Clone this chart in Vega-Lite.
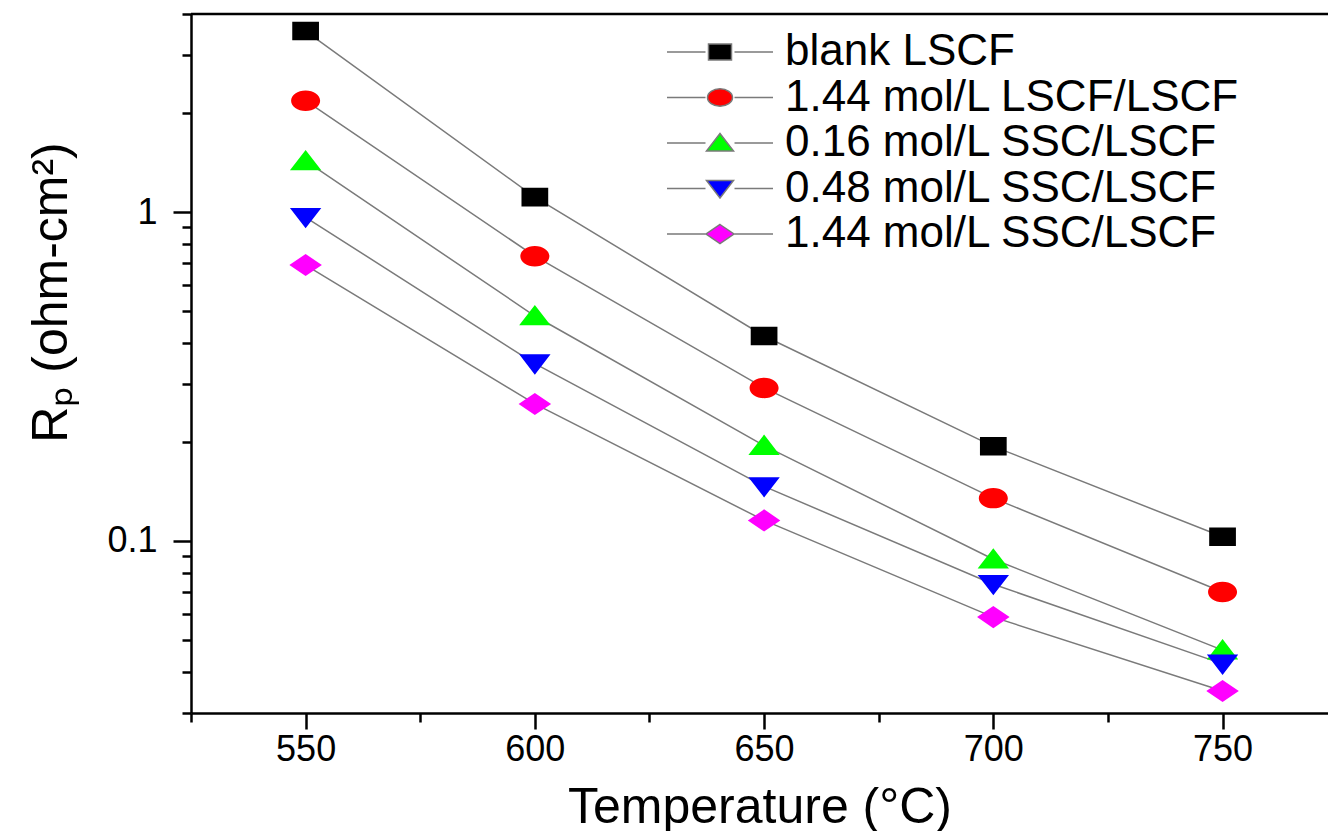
{
  "$schema": "https://vega.github.io/schema/vega-lite/v6.json",
  "width": 1137,
  "height": 699,
  "autosize": {"type": "none"},
  "padding": {"left": 191, "top": 14, "right": 0, "bottom": 118},
  "background": "white",
  "config": {"view": {"stroke": null}, "font": "Liberation Sans"},
  "data": {"values": [
    {"T": 550, "Rp": 3.55, "series": "blank LSCF"},
    {"T": 600, "Rp": 1.11, "series": "blank LSCF"},
    {"T": 650, "Rp": 0.42, "series": "blank LSCF"},
    {"T": 700, "Rp": 0.194, "series": "blank LSCF"},
    {"T": 750, "Rp": 0.103, "series": "blank LSCF"},
    {"T": 550, "Rp": 2.18, "series": "1.44 mol/L LSCF/LSCF"},
    {"T": 600, "Rp": 0.734, "series": "1.44 mol/L LSCF/LSCF"},
    {"T": 650, "Rp": 0.292, "series": "1.44 mol/L LSCF/LSCF"},
    {"T": 700, "Rp": 0.135, "series": "1.44 mol/L LSCF/LSCF"},
    {"T": 750, "Rp": 0.07, "series": "1.44 mol/L LSCF/LSCF"},
    {"T": 550, "Rp": 1.43, "series": "0.16 mol/L SSC/LSCF"},
    {"T": 600, "Rp": 0.483, "series": "0.16 mol/L SSC/LSCF"},
    {"T": 650, "Rp": 0.195, "series": "0.16 mol/L SSC/LSCF"},
    {"T": 700, "Rp": 0.088, "series": "0.16 mol/L SSC/LSCF"},
    {"T": 750, "Rp": 0.0466, "series": "0.16 mol/L SSC/LSCF"},
    {"T": 550, "Rp": 0.964, "series": "0.48 mol/L SSC/LSCF"},
    {"T": 600, "Rp": 0.346, "series": "0.48 mol/L SSC/LSCF"},
    {"T": 650, "Rp": 0.1465, "series": "0.48 mol/L SSC/LSCF"},
    {"T": 700, "Rp": 0.0739, "series": "0.48 mol/L SSC/LSCF"},
    {"T": 750, "Rp": 0.0423, "series": "0.48 mol/L SSC/LSCF"},
    {"T": 550, "Rp": 0.69, "series": "1.44 mol/L SSC/LSCF"},
    {"T": 600, "Rp": 0.261, "series": "1.44 mol/L SSC/LSCF"},
    {"T": 650, "Rp": 0.1155, "series": "1.44 mol/L SSC/LSCF"},
    {"T": 700, "Rp": 0.0587, "series": "1.44 mol/L SSC/LSCF"},
    {"T": 750, "Rp": 0.035, "series": "1.44 mol/L SSC/LSCF"}
  ]},
  "layer": [
    {
      "mark": {"type": "line", "color": "#7a7a7a", "strokeWidth": 1.5},
      "encoding": {
        "x": {
          "field": "T", "type": "quantitative",
          "scale": {"domain": [525, 773], "nice": false, "zero": false},
          "axis": {
            "title": "Temperature (°C)",
            "values": [525, 550, 575, 600, 625, 650, 675, 700, 725, 750],
            "labelExpr": "datum.value % 50 == 0 ? datum.label : ''",
            "tickSize": {"condition": {"test": "datum.value % 50 == 0", "value": 16}, "value": 9},
            "grid": false,
            "tickWidth": 2.5, "tickColor": "black",
            "domainWidth": 2.5, "domainColor": "black",
            "labelFontSize": 36, "labelColor": "black", "labelFont": "Liberation Sans",
            "labelBaseline": "alphabetic", "labelPadding": 31,
            "labelOverlap": false, "labelFlush": false,
            "titleFontSize": 50, "titleFontWeight": "normal", "titleColor": "black", "titleFont": "Liberation Sans",
            "titleBaseline": "alphabetic", "titleY": 109
          }
        },
        "y": {
          "field": "Rp", "type": "quantitative",
          "scale": {"type": "log", "domain": [0.03, 4], "nice": false},
          "axis": {
            "title": "Rₚ (ohm-cm²)",
            "values": [0.03, 0.04, 0.05, 0.06, 0.07, 0.08, 0.09, 0.1, 0.2, 0.3, 0.4, 0.5, 0.6, 0.7, 0.8, 0.9, 1, 2, 3, 4],
            "labelExpr": "datum.value == 1 ? '1' : (abs(datum.value - 0.1) < 1e-9 ? '0.1' : '')",
            "tickSize": {"condition": {"test": "datum.value == 1 || abs(datum.value - 0.1) < 1e-9", "value": 18}, "value": 9},
            "grid": false,
            "tickWidth": 2.5, "tickColor": "black",
            "domainWidth": 2.5, "domainColor": "black",
            "labelFontSize": 36, "labelColor": "black", "labelFont": "Liberation Sans",
            "labelPadding": 16, "labelOverlap": false, "labelFlush": false,
            "titleFontSize": 50, "titleFontWeight": "normal", "titleColor": "black", "titleFont": "Liberation Sans",
            "titleAngle": 270, "titleAlign": "center", "titleBaseline": "bottom",
            "titleX": -115, "titleY": 278
          }
        },
        "detail": {"field": "series"}
      }
    },
    {
      "mark": {"type": "point", "filled": true, "size": 540, "opacity": 1},
      "encoding": {
        "x": {"field": "T", "type": "quantitative"},
        "y": {"field": "Rp", "type": "quantitative"},
        "color": {
          "field": "series", "type": "nominal",
          "scale": {
            "domain": ["blank LSCF", "1.44 mol/L LSCF/LSCF", "0.16 mol/L SSC/LSCF", "0.48 mol/L SSC/LSCF", "1.44 mol/L SSC/LSCF"],
            "range": ["#000000", "#ff0000", "#00ff00", "#0000ff", "#ff00ff"]
          },
          "legend": {
            "title": null, "orient": "none", "legendX": 507, "legendY": 16,
            "labelFontSize": 44, "labelFont": "Liberation Sans", "labelColor": "black", "labelLimit": 2000,
            "symbolSize": 400, "labelOffset": 43, "rowPadding": 1.5, "padding": 0, "symbolOpacity": 1,
            "encode": {
              "symbols": {
                "update": {
                  "stroke": {"value": "#7a7a7a"},
                  "strokeWidth": {"value": 1.5}
                }
              }
            }
          }
        },
        "shape": {
          "field": "series", "type": "nominal",
          "scale": {
            "domain": ["blank LSCF", "1.44 mol/L LSCF/LSCF", "0.16 mol/L SSC/LSCF", "0.48 mol/L SSC/LSCF", "1.44 mol/L SSC/LSCF"],
            "range": [
              "M-5.3,0H-1.45M1.45,0H5.3M-1.15,-0.8H1.15V0.8H-1.15Z",
              "M-5.3,0H-1.45M1.45,0H5.3M-1.25,0A1.25,0.88 0 1,0 1.25,0A1.25,0.88 0 1,0 -1.25,0Z",
              "M-5.3,0H-1.45M1.45,0H5.3M0,-0.95L1.35,0.8H-1.35Z",
              "M-5.3,0H-1.45M1.45,0H5.3M0,0.95L1.35,-0.8H-1.35Z",
              "M-5.3,0H-1.45M1.45,0H5.3M0,-0.95L1.4,0L0,0.95L-1.4,0Z"
            ]
          },
          "legend": null
        }
      }
    },
    {
      "data": {"values": [{"edge": "top"}]},
      "mark": {"type": "rule", "color": "black", "strokeWidth": 2.5},
      "encoding": {"y": {"datum": 4, "type": "quantitative"}}
    }
  ]
}
